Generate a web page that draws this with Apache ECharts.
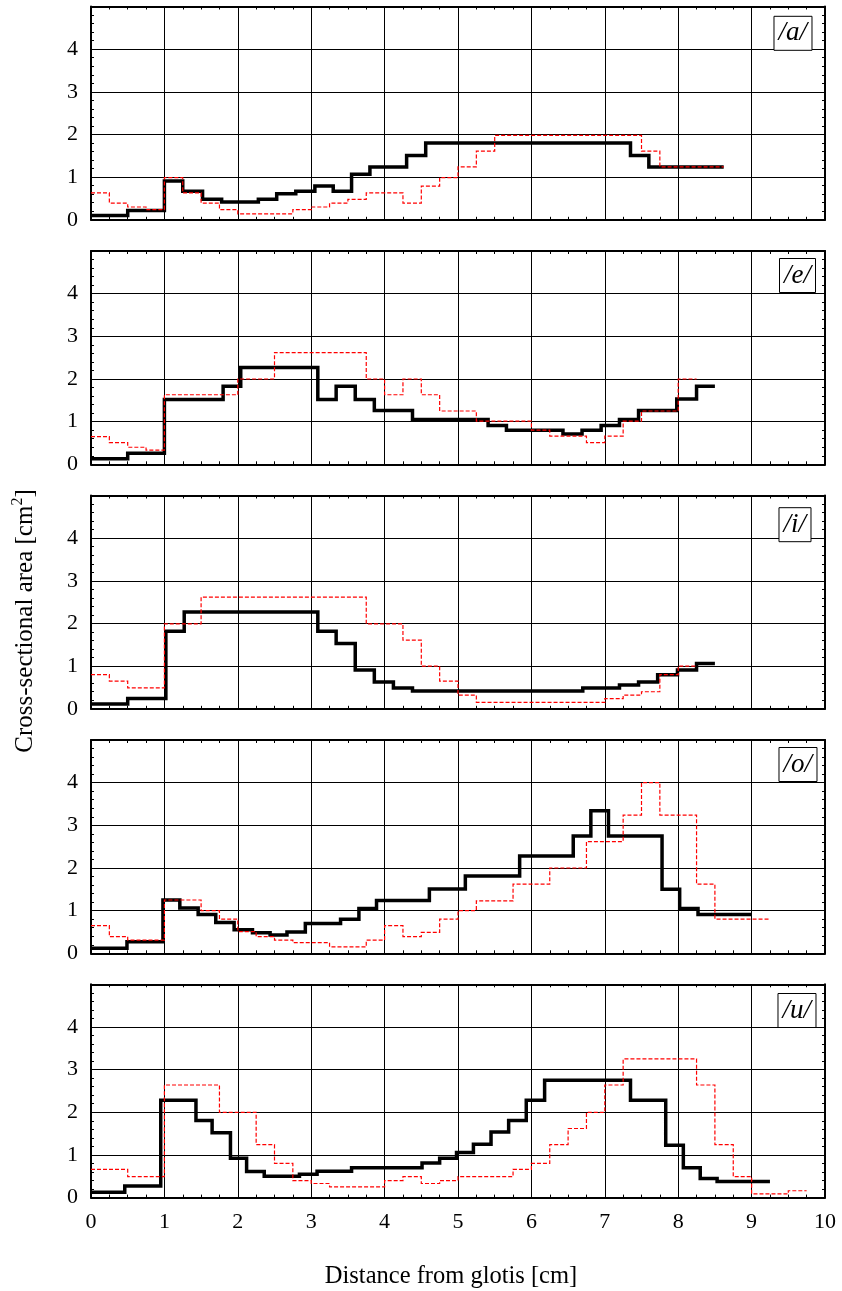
<!DOCTYPE html>
<html>
<head>
<meta charset="utf-8">
<script src="https://cdn.jsdelivr.net/npm/echarts@6/dist/echarts.min.js"></script>
<style>
  html, body { margin: 0; padding: 0; background: #fff; }
  #chart { width: 842px; height: 1291px; }
</style>
</head>
<body>
<div id="chart"></div>
<script>
// Vocal-tract area functions: step profiles, section edges [cm] and areas [cm^2]
const vowels = ['/a/', '/e/', '/i/', '/o/', '/u/'];
const xTicks = [0, 1, 2, 3, 4, 5, 6, 7, 8, 9, 10];
const yTicks = [0, 1, 2, 3, 4];

// /a/
const aSolidEdges = [0, 0.5, 1.0, 1.25, 1.52, 1.78, 2.28, 2.53, 2.79, 3.05, 3.30, 3.55, 3.80, 4.30, 4.56, 7.35, 7.60, 8.62];
const aSolidArea  = [0.10, 0.22, 0.91, 0.67, 0.48, 0.42, 0.48, 0.61, 0.67, 0.79, 0.67, 1.07, 1.24, 1.51, 1.80, 1.51, 1.24];
const aDashEdges  = [0, 0.25, 0.5, 0.75, 1.0, 1.25, 1.5, 1.75, 2.0, 2.75, 3.0, 3.25, 3.5, 3.75, 4.25, 4.5, 4.75, 5.0, 5.25, 5.5, 7.5, 7.75, 8.62];
const aDashArea   = [0.63, 0.39, 0.30, 0.24, 0.99, 0.63, 0.39, 0.24, 0.14, 0.24, 0.30, 0.39, 0.48, 0.63, 0.39, 0.79, 0.99, 1.24, 1.61, 1.98, 1.61, 1.24];

// /e/
const eSolidEdges = [0, 0.5, 1.0, 1.80, 2.04, 3.09, 3.34, 3.60, 3.86, 4.38, 5.41, 5.66, 6.43, 6.69, 6.95, 7.20, 7.46, 7.98, 8.25, 8.50];
const eSolidArea  = [0.13, 0.26, 1.52, 1.83, 2.27, 1.52, 1.83, 1.52, 1.26, 1.05, 0.91, 0.80, 0.71, 0.80, 0.91, 1.05, 1.26, 1.53, 1.83];
const eDashEdges  = [0, 0.25, 0.5, 0.75, 1.0, 2.0, 2.5, 3.75, 4.0, 4.25, 4.5, 4.75, 5.25, 6.0, 6.25, 6.75, 7.0, 7.25, 7.5, 8.0, 8.25];
const eDashArea   = [0.65, 0.51, 0.40, 0.33, 1.63, 2.0, 2.62, 2.0, 1.63, 2.0, 1.63, 1.25, 1.01, 0.80, 0.66, 0.51, 0.66, 1.01, 1.25, 2.0];

// /i/
const iSolidEdges = [0, 0.5, 1.02, 1.27, 3.09, 3.34, 3.60, 3.86, 4.12, 4.38, 6.70, 7.20, 7.46, 7.72, 7.99, 8.25, 8.50];
const iSolidArea  = [0.11, 0.24, 1.82, 2.27, 1.82, 1.53, 0.91, 0.63, 0.49, 0.42, 0.49, 0.56, 0.63, 0.80, 0.91, 1.06];
const iDashEdges  = [0, 0.25, 0.5, 1.0, 1.5, 3.75, 4.25, 4.5, 4.75, 5.0, 5.25, 7.0, 7.25, 7.5, 7.75, 8.0, 8.25];
const iDashArea   = [0.80, 0.65, 0.49, 1.99, 2.62, 1.99, 1.61, 1.0, 0.65, 0.32, 0.15, 0.24, 0.32, 0.40, 0.80, 1.0];

// /o/
const oSolidEdges = [0, 0.49, 0.98, 1.21, 1.46, 1.70, 1.95, 2.20, 2.44, 2.67, 2.92, 3.40, 3.65, 3.89, 4.61, 5.10, 5.84, 6.57, 6.81, 7.05, 7.78, 8.02, 8.27, 9.0];
const oSolidArea  = [0.12, 0.27, 1.25, 1.06, 0.91, 0.72, 0.55, 0.48, 0.43, 0.50, 0.70, 0.80, 1.05, 1.24, 1.51, 1.81, 2.28, 2.75, 3.34, 2.75, 1.50, 1.05, 0.91];
const oDashEdges  = [0, 0.25, 0.5, 1.0, 1.5, 1.75, 2.0, 2.25, 2.5, 2.75, 3.25, 3.75, 4.0, 4.25, 4.5, 4.75, 5.0, 5.25, 5.75, 6.25, 6.75, 7.25, 7.5, 7.75, 8.25, 8.5, 9.25];
const oDashArea   = [0.65, 0.39, 0.31, 1.25, 1.0, 0.80, 0.51, 0.39, 0.31, 0.25, 0.15, 0.31, 0.65, 0.39, 0.49, 0.80, 1.0, 1.23, 1.62, 2.0, 2.62, 3.24, 4.0, 3.24, 1.62, 0.80];

// /u/
const uSolidEdges = [0, 0.46, 0.95, 1.43, 1.65, 1.90, 2.12, 2.36, 2.84, 3.08, 3.55, 4.51, 4.75, 4.98, 5.21, 5.45, 5.69, 5.93, 6.18, 7.35, 7.83, 8.07, 8.30, 8.53, 9.25];
const uSolidArea  = [0.125, 0.27, 2.28, 1.81, 1.52, 0.92, 0.61, 0.50, 0.55, 0.62, 0.70, 0.81, 0.92, 1.06, 1.25, 1.54, 1.81, 2.28, 2.75, 2.28, 1.23, 0.70, 0.45, 0.375];
const uDashEdges  = [0, 0.5, 1.0, 1.75, 2.25, 2.5, 2.75, 3.0, 3.25, 4.0, 4.25, 4.5, 4.75, 5.0, 5.75, 6.0, 6.25, 6.5, 6.75, 7.0, 7.25, 8.25, 8.5, 8.75, 9.0, 9.5, 9.75];
const uDashArea   = [0.66, 0.49, 2.64, 2.0, 1.24, 0.80, 0.40, 0.33, 0.25, 0.40, 0.49, 0.33, 0.40, 0.49, 0.66, 0.80, 1.24, 1.62, 2.0, 2.64, 3.25, 2.64, 1.24, 0.49, 0.086, 0.16];

const solidProfiles = [
  [aSolidEdges, aSolidArea], [eSolidEdges, eSolidArea], [iSolidEdges, iSolidArea],
  [oSolidEdges, oSolidArea], [uSolidEdges, uSolidArea]
];
const dashProfiles = [
  [aDashEdges, aDashArea], [eDashEdges, eDashArea], [iDashEdges, iDashArea],
  [oDashEdges, oDashArea], [uDashEdges, uDashArea]
];

// Each section holds its area from its left edge to the next edge.
function stepPoints(edges, area) {
  return edges.map((x, k) => [x, area[Math.min(k, area.length - 1)]]);
}

const FONT = '"Liberation Serif", "Times New Roman", serif';
const panelTops = [6.5, 251, 495.5, 740, 984.3];
const panelHeight = 213.3;
const tagTopOffsets = [9.3, 7, 11.7, 7, 8.7];
const tagRights = [30, 26, 31, 25, 26];

const grids = [], xAxes = [], yAxes = [], series = [], titles = [];

panelTops.forEach((top, i) => {
  const last = i === panelTops.length - 1;
  grids.push({ left: 91, right: 17, top: top, height: panelHeight });

  const axisLine = { show: true, onZero: false, lineStyle: { color: '#000', width: 2 } };
  const xBase = {
    type: 'value', gridIndex: i, min: 0, max: 10, interval: 1,
    axisLine: axisLine,
    axisTick: { show: true, inside: true, length: 5, lineStyle: { color: '#000', width: 1 } },
    minorTick: { show: true, splitNumber: 4, length: 3, lineStyle: { color: '#000', width: 1 } }
  };
  xAxes.push(Object.assign({}, xBase, {
    position: 'bottom',
    axisLabel: {
      show: last, margin: 14, fontSize: 22, fontFamily: FONT, color: '#000',
      formatter: v => (xTicks.indexOf(v) >= 0 ? String(v) : '')
    },
    splitLine: { show: true, lineStyle: { color: '#000', width: 1 } }
  }));
  xAxes.push(Object.assign({}, xBase, {
    position: 'top', axisLabel: { show: false }, splitLine: { show: false }
  }));

  const yBase = {
    type: 'value', gridIndex: i, min: 0, max: 5, interval: 1,
    axisLine: axisLine,
    axisTick: { show: true, inside: true, length: 5, lineStyle: { color: '#000', width: 1 } },
    minorTick: { show: true, splitNumber: 5, length: 3, lineStyle: { color: '#000', width: 1 } }
  };
  yAxes.push(Object.assign({}, yBase, {
    position: 'left',
    axisLabel: {
      show: true, margin: 13, fontSize: 22, fontFamily: FONT, color: '#000',
      formatter: v => (yTicks.indexOf(v) >= 0 ? String(v) : '')
    },
    splitLine: { show: true, lineStyle: { color: '#000', width: 1 } }
  }));
  yAxes.push(Object.assign({}, yBase, {
    position: 'right', axisLabel: { show: false }, splitLine: { show: false }
  }));

  const [se, sa] = solidProfiles[i];
  const [de, da] = dashProfiles[i];
  series.push({
    name: vowels[i] + ' solid', type: 'line', step: 'end',
    xAxisIndex: 2 * i, yAxisIndex: 2 * i,
    data: stepPoints(se, sa), showSymbol: false, symbol: 'none', z: 3,
    lineStyle: { color: '#000', width: 3.5, join: 'miter', cap: 'butt' }
  });
  series.push({
    name: vowels[i] + ' dashed', type: 'line', step: 'end',
    xAxisIndex: 2 * i, yAxisIndex: 2 * i,
    data: stepPoints(de, da), showSymbol: false, symbol: 'none', z: 4,
    lineStyle: { color: '#ff0000', width: 1.2, type: [4, 2], join: 'miter' }
  });

  titles.push({
    text: vowels[i], right: tagRights[i], top: top + tagTopOffsets[i],
    padding: [4, 5, 4, 5], borderColor: '#000', borderWidth: 1,
    backgroundColor: '#fff',
    textStyle: { fontFamily: FONT, fontStyle: 'italic', fontWeight: 'normal', fontSize: 27, color: '#000' }
  });
});

const chart = echarts.init(document.getElementById('chart'), null, { renderer: 'canvas' });
chart.setOption({
  animation: false,
  backgroundColor: '#fff',
  title: titles,
  grid: grids,
  xAxis: xAxes,
  yAxis: yAxes,
  series: series,
  graphic: [
    {
      type: 'text', x: 451, y: 1277,
      style: {
        text: 'Distance from glotis [cm]', textAlign: 'center', textVerticalAlign: 'middle',
        font: '24.5px ' + FONT, fill: '#000'
      }
    },
    {
      type: 'text', x: 25, y: 621, rotation: Math.PI / 2,
      style: {
        text: '{n|Cross-sectional area [cm}{s|2}{n|]}',
        textAlign: 'center', textVerticalAlign: 'middle', fill: '#000',
        rich: {
          n: { fontSize: 25, fontFamily: FONT, lineHeight: 30, fill: '#000' },
          s: { fontSize: 16, fontFamily: FONT, verticalAlign: 'top', fill: '#000' }
        }
      }
    }
  ]
});
</script>
</body>
</html>
